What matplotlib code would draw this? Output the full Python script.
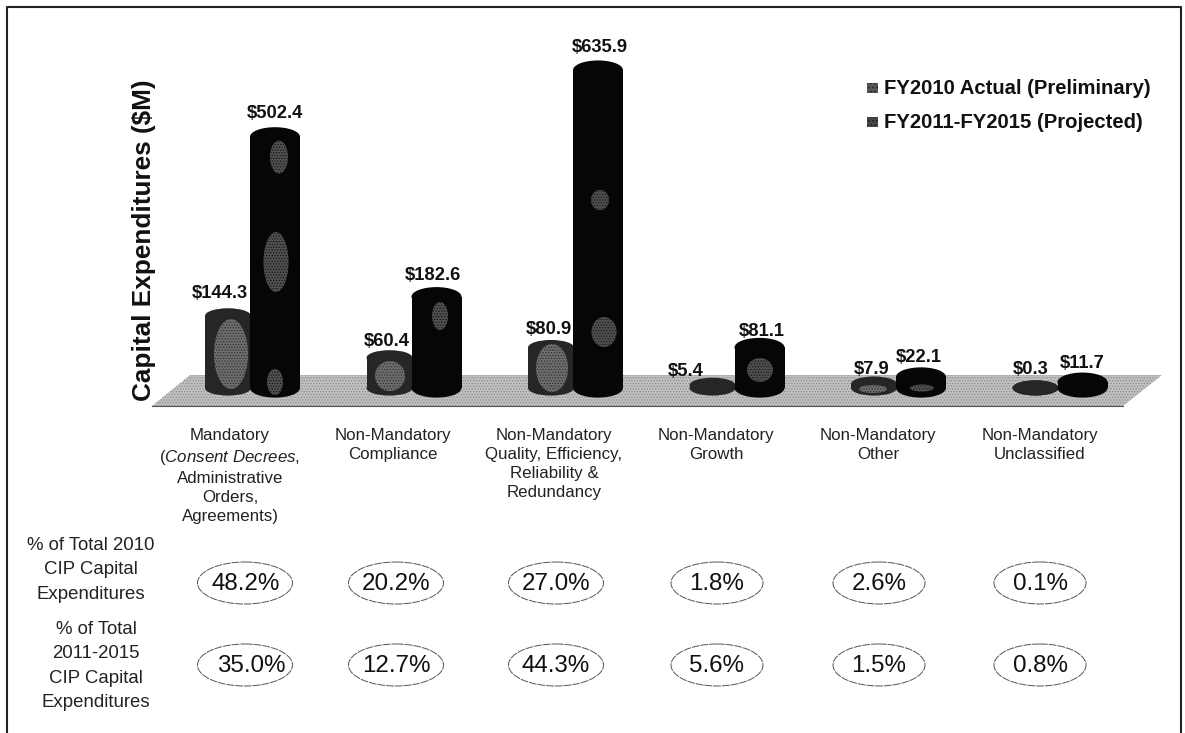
import matplotlib
matplotlib.use("Agg")
import matplotlib.pyplot as plt
from matplotlib.patches import Ellipse, Polygon, Rectangle

plt.rcParams['font.family'] = ['Liberation Sans', 'DejaVu Sans']
plt.rcParams['hatch.linewidth'] = 0.6
plt.rcParams['mathtext.fontset'] = 'custom'
plt.rcParams['mathtext.it'] = 'Liberation Sans:italic'
plt.rcParams['mathtext.rm'] = 'Liberation Sans'

W, H = 1185, 733
categories = [
    "Mandatory\n($\\mathit{Consent\\ Decrees,}$\nAdministrative\nOrders,\nAgreements)",
    "Non-Mandatory\nCompliance",
    "Non-Mandatory\nQuality, Efficiency,\nReliability &\nRedundancy",
    "Non-Mandatory\nGrowth",
    "Non-Mandatory\nOther",
    "Non-Mandatory\nUnclassified",
]
actual_2010 = [144.3, 60.4, 80.9, 5.4, 7.9, 0.3]
projected_2015 = [502.4, 182.6, 635.9, 81.1, 22.1, 11.7]
pct_2010 = ["48.2%", "20.2%", "27.0%", "1.8%", "2.6%", "0.1%"]
pct_2015 = ["35.0%", "12.7%", "44.3%", "5.6%", "1.5%", "0.8%"]
series_names = ["FY2010 Actual (Preliminary)", "FY2011-FY2015 (Projected)"]

# layout (pixels)
label_xy_a = [(220, 293), (387, 341), (549, 330), (686, 371), (872, 369), (1031, 370)]
label_xy_p = [(275, 113), (433, 275), (600, 47), (762, 331), (919, 357), (1082, 363)]
blotches = [(279, 157, 18, 33), (276, 262, 25, 60), (275, 382, 16, 26),
            (440, 316, 16, 28), (600, 200, 18, 20), (604, 332, 25, 30),
            (760, 370, 26, 24), (922, 388, 24, 7)]
gray_blotches = [(231, 354, 34, 70), (390, 376, 30, 30), (552, 368, 32, 48), (873, 389, 28, 8)]

fig = plt.figure(figsize=(W / 100, H / 100), dpi=100, facecolor="white")
px = fig.add_axes([0, 0, 1, 1])
px.set_xlim(0, W); px.set_ylim(H, 0); px.axis("off")

# frame
px.plot([7, 7, 1181, 1181], [H, 7, 7, H], color="#222222", lw=1.5, zorder=1)

# floor
px.add_patch(Polygon([(190, 375), (1162, 375), (1123, 406), (152, 406)], closed=True,
                     facecolor="#c0c0c0", edgecolor="#8c8c8c", hatch="......", lw=0, zorder=2))
px.plot([152, 1123], [406, 406], color="#555555", lw=0.8, zorder=2)

# value axes: 0 at pixel y=388, 0.5 px per $M ; x unit = one category (161.5 px)
scale = 0.5
base_px = 388
x0_px = 228
unit = 161.5
ax = fig.add_axes([0, 0, 1, 1])
ax.patch.set_alpha(0)
ax.set_xlim((0 - x0_px) / unit, (W - x0_px) / unit)
ax.set_ylim((base_px - H) / scale, base_px / scale)
ax.axis("off")

bw_a, bw_p = 46 / unit, 50 / unit
offs_a, offs_p = 0.0, 47 / unit
eh = 16 / scale

def cylinder(x, v, w, body, z, eh_use):
    ax.bar(x, v, width=w, bottom=0, color=body, lw=0, zorder=z)
    ax.add_patch(Ellipse((x, 0), w, eh_use, facecolor=body, lw=0, zorder=z))
    ax.add_patch(Ellipse((x, v), w, eh_use, facecolor=body, lw=0, zorder=z))

for i, (a, p) in enumerate(zip(actual_2010, projected_2015)):
    cylinder(i + offs_a, a, bw_a, "#262626", 3, eh * 0.95)
    cylinder(i + offs_p, p, bw_p, "#060606", 4, eh * 1.2)

for (x, y, w, h) in gray_blotches:
    ax.add_patch(Ellipse((x, y), w, h, transform=px.transData, facecolor="#6e6e6e", hatch="......",
                         edgecolor="#303030", lw=0, zorder=3.5))
for (x, y, w, h) in blotches:
    ax.add_patch(Ellipse((x, y), w, h, transform=px.transData, facecolor="#505050", hatch="......",
                         edgecolor="#161616", lw=0, zorder=4.5))

for (x, y), v in zip(label_xy_a, actual_2010):
    ax.text(x, y, f"${v:.1f}", transform=px.transData, ha="center", va="center", fontsize=13.2,
            fontweight="bold", color="#111111", zorder=6)
for (x, y), v in zip(label_xy_p, projected_2015):
    ax.text(x, y, f"${v:.1f}", transform=px.transData, ha="center", va="center", fontsize=13.2,
            fontweight="bold", color="#111111", zorder=6)

# y label
px.text(144, 240, "Capital Expenditures ($M)", rotation=90, ha="center", va="center",
        fontsize=18.8, fontweight="bold", color="#111111")

# legend
for y, col in zip([88, 122], ["#555555", "#444444"]):
    px.add_patch(Rectangle((867, y - 5), 11, 10, facecolor=col, hatch="....", edgecolor="#222222", lw=0))
px.text(884, 88, series_names[0], ha="left", va="center", fontsize=14.6, fontweight="bold", color="#111111")
px.text(884, 122, series_names[1], ha="left", va="center", fontsize=14.6, fontweight="bold", color="#111111")

# category labels
label_x = [230, 393, 554, 716, 878, 1040]
for x, c in zip(label_x, categories):
    px.text(x, 428, c, ha="center", va="top", fontsize=12.2, color="#222222", linespacing=1.33)

# percent rows
row_x = [245, 396, 556, 717, 879, 1040]
text_x = [246, 396, 556, 717, 879, 1040]
text_x2 = [251, 396, 556, 717, 879, 1040]
for x, tx, s in zip(row_x, text_x, pct_2010):
    px.add_patch(Ellipse((x, 583), 95 if x < 700 else 92, 42, facecolor="white", edgecolor="#555555", lw=0.7, ls=(0, (8, 1))))
    px.text(tx, 584, s, ha="center", va="center", fontsize=17.4, color="#111111")
for x, tx, s in zip(row_x, text_x2, pct_2015):
    px.add_patch(Ellipse((x, 665), 95 if x < 700 else 92, 42, facecolor="white", edgecolor="#555555", lw=0.7, ls=(0, (8, 1))))
    px.text(tx, 666, s, ha="center", va="center", fontsize=17.4, color="#111111")

px.text(91, 570, "% of Total 2010\nCIP Capital\nExpenditures", ha="center", va="center", fontsize=13.4,
        color="#222222", linespacing=1.55)
px.text(96, 666, "% of Total\n2011-2015\nCIP Capital\nExpenditures", ha="center", va="center", fontsize=13.4,
        color="#222222", linespacing=1.55)

fig.savefig("out.png", dpi=100)
